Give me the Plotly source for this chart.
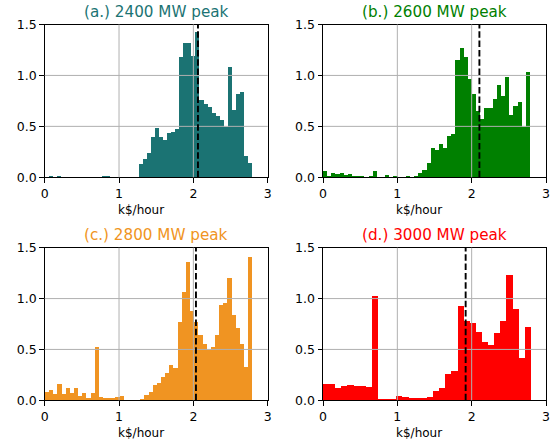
import plotly.graph_objects as go

titles = ["(a.) 2400 MW peak", "(b.) 2600 MW peak", "(c.) 2800 MW peak", "(d.) 3000 MW peak"]
colors = ["#1b7373", "#008000", "#f09422", "#ff0000"]
title_colors = ["#1b7373", "#008000", "#f09422", "#ff0000"]

bin_start = [0.058, 0.0, 0.0, 0.0]
bin_width = [0.0546, 0.0557, 0.05576, 0.08226]

heights_a = [0.010, 0.0, 0.020, 0.0, 0.0, 0.0, 0.0, 0.0, 0.0, 0.0,
             0.0, 0.0, 0.0, 0.010, 0.010, 0.0, 0.0, 0.0, 0.0, 0.0,
             0.0, 0.0, 0.131, 0.180, 0.239, 0.397, 0.485, 0.397, 0.370, 0.436,
             0.446, 0.475, 1.187, 1.321, 1.321, 1.197, 1.430, 0.761, 0.725, 0.698,
             0.636, 0.610, 0.570, 0.502, 1.085, 0.662, 0.823, 0.839, 0.210, 0.141]

heights_b = [0.062, 0.013, 0.043, 0.036, 0.052, 0.023, 0.033, 0.013, 0.013, 0.013,
             0.003, 0.013, 0.062, 0.0, 0.003, 0.023, 0.0, 0.013, 0.0, 0.0,
             0.013, 0.0, 0.013, 0.052, 0.072, 0.141, 0.289, 0.272, 0.328, 0.292,
             0.410, 0.426, 1.154, 1.272, 1.187, 0.967, 0.823, 0.652, 0.574, 0.689,
             0.682, 0.770, 0.908, 0.800, 0.987, 0.613, 0.702, 0.741, 0.495, 1.036]

heights_c = [0.085, 0.101, 0.065, 0.160, 0.065, 0.121, 0.075, 0.121, 0.046, 0.075,
             0.026, 0.075, 0.523, 0.033, 0.023, 0.023, 0.023, 0.033, 0.042, 0.0,
             0.0, 0.0, 0.0, 0.013, 0.052, 0.085, 0.150, 0.173, 0.229, 0.268,
             0.346, 0.317, 0.768, 1.072, 1.366, 0.876, 0.768, 0.641, 0.552, 0.500,
             0.523, 0.641, 0.935, 0.964, 1.209, 0.837, 0.709, 0.552, 0.327, 1.415]

heights_d = [0.160, 0.160, 0.121, 0.140, 0.150, 0.140, 0.140, 0.130, 1.029, 0.013,
             0.013, 0.013, 0.042, 0.033, 0.023, 0.023, 0.023, 0.031, 0.091, 0.121,
             0.257, 0.287, 0.932, 0.785, 0.765, 0.678, 0.580, 0.544, 0.668, 0.785,
             1.235, 0.902, 0.423, 0.726]

all_heights = [heights_a, heights_b, heights_c, heights_d]
median_x = [2.062, 2.104, 2.035, 1.919]

x_ticks = [0, 1, 2, 3]
y_ticks = [0.0, 0.5, 1.0, 1.5]
y_ticklabels = ["0.0", "0.5", "1.0", "1.5"]
x_label = "k$/hour"

W, H = 556, 445
# pixel boxes (left, right, top, bottom) of each panel
boxes = [(44.7, 267.7, 24.5, 177.3), (323.0, 546.0, 24.5, 177.3),
         (44.7, 267.7, 247.7, 400.3), (323.0, 546.0, 247.7, 400.3)]

fig = go.Figure()
shapes = []
annotations = []
font_family = "DejaVu Sans"
tick_size = 12.5
title_size = 15.2

for i in range(4):
    suffix = "" if i == 0 else str(i + 1)
    xa, ya = "x" + suffix, "y" + suffix
    h = all_heights[i]
    w = bin_width[i]
    centers = [bin_start[i] + w * (k + 0.5) for k in range(len(h))]
    fig.add_trace(go.Bar(x=centers, y=h, width=[w] * len(h), marker=dict(color=colors[i], line=dict(width=0)),
                         xaxis=xa, yaxis=ya, showlegend=False, hoverinfo="skip"))
    l, r, t, b = boxes[i]
    axis_common = dict(showline=True, linecolor="black", linewidth=1, mirror=True,
                       ticks="outside", ticklen=4.5, tickwidth=1, tickcolor="black",
                       showgrid=False, zeroline=False, automargin=False,
                       tickfont=dict(family=font_family, size=tick_size, color="black"))
    fig.layout["xaxis" + suffix] = dict(domain=[l / W, r / W], range=[0, 3], tickvals=x_ticks,
                                        anchor=ya, **axis_common)
    fig.layout["yaxis" + suffix] = dict(domain=[1 - b / H, 1 - t / H], range=[0, 1.5], tickvals=y_ticks,
                                        ticktext=y_ticklabels, anchor=xa, **axis_common)
    # grid lines drawn above bars
    for xv in x_ticks[1:-1]:
        shapes.append(dict(type="line", xref=xa, yref=ya + " domain", x0=xv, x1=xv, y0=0, y1=1,
                           line=dict(color="#b0b0b0", width=1), layer="above"))
    for yv in y_ticks[1:-1]:
        shapes.append(dict(type="line", xref=xa + " domain", yref=ya, x0=0, x1=1, y0=yv, y1=yv,
                           line=dict(color="#b0b0b0", width=1), layer="above"))
    shapes.append(dict(type="line", xref=xa, yref=ya + " domain", x0=median_x[i], x1=median_x[i], y0=0, y1=1,
                       line=dict(color="black", width=1.9, dash="6.5px,2.8px"), layer="above"))
    annotations.append(dict(text=titles[i], xref="paper", yref="paper", x=(l + r) / 2 / W, y=1 - (t - 12.5) / H,
                            showarrow=False, xanchor="center", yanchor="middle",
                            font=dict(family=font_family, size=title_size, color=title_colors[i])))
    annotations.append(dict(text=x_label, xref="paper", yref="paper", x=(l + 96) / W, y=1 - (b + 33) / H,
                            showarrow=False, xanchor="center", yanchor="middle",
                            font=dict(family=font_family, size=12, color="black")))

fig.update_layout(width=W, height=H, margin=dict(l=0, r=0, t=0, b=0), bargap=0,
                  plot_bgcolor="white", paper_bgcolor="white", shapes=shapes, annotations=annotations)

fig.write_html("out.html", config={"displayModeBar": False},
               post_script="document.body.style.margin='0';document.body.style.overflow='hidden';")
